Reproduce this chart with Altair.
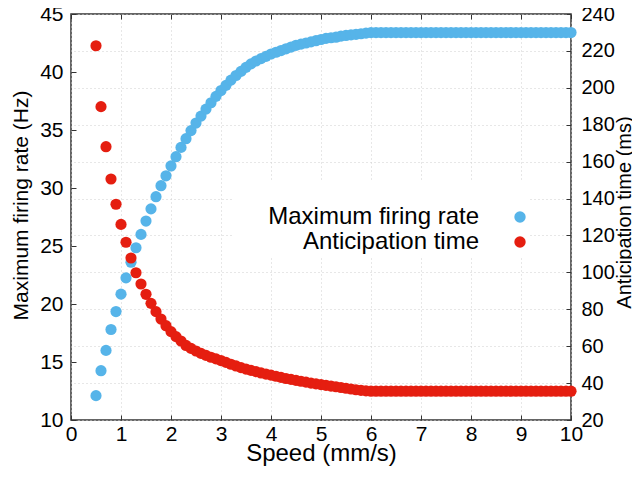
import altair as alt
import pandas as pd

# ---- data ----
speed = [0.5, 0.6, 0.7, 0.8, 0.9, 1.0, 1.1, 1.2, 1.3, 1.4, 1.5, 1.6, 1.7, 1.8, 1.9,
         2.0, 2.1, 2.2, 2.3, 2.4, 2.5, 2.6, 2.7, 2.8, 2.9, 3.0, 3.1, 3.2, 3.3, 3.4,
         3.5, 3.6, 3.7, 3.8, 3.9, 4.0, 4.1, 4.2, 4.3, 4.4, 4.5, 4.6, 4.7, 4.8, 4.9,
         5.0, 5.1, 5.2, 5.3, 5.4, 5.5, 5.6, 5.7, 5.8, 5.9, 6.0, 6.1, 6.2, 6.3, 6.4,
         6.5, 6.6, 6.7, 6.8, 6.9, 7.0, 7.1, 7.2, 7.3, 7.4, 7.5, 7.6, 7.7, 7.8, 7.9,
         8.0, 8.1, 8.2, 8.3, 8.4, 8.5, 8.6, 8.7, 8.8, 8.9, 9.0, 9.1, 9.2, 9.3, 9.4,
         9.5, 9.6, 9.7, 9.8, 9.9, 10.0]

firing_rate = [12.1, 14.25, 16.0, 17.8, 19.35, 20.85, 22.25, 23.6, 24.85, 26.0,
               27.15, 28.2, 29.25, 30.2, 31.05, 31.9, 32.7, 33.5, 34.25, 34.95,
               35.6, 36.2, 36.8, 37.35, 37.9, 38.4, 38.85, 39.3, 39.7, 40.05,
               40.4, 40.7, 40.95, 41.15, 41.35, 41.55, 41.7, 41.85, 42.0, 42.15,
               42.3, 42.4, 42.5, 42.6, 42.7, 42.8, 42.9, 42.95, 43.0, 43.1,
               43.15, 43.2, 43.25, 43.3, 43.35, 43.4, 43.4, 43.4, 43.4, 43.4,
               43.4, 43.4, 43.4, 43.4, 43.4, 43.4, 43.4, 43.4, 43.4, 43.4,
               43.4, 43.4, 43.4, 43.4, 43.4, 43.4, 43.4, 43.4, 43.4, 43.4,
               43.4, 43.4, 43.4, 43.4, 43.4, 43.4, 43.4, 43.4, 43.4, 43.4,
               43.4, 43.4, 43.4, 43.4, 43.4, 43.4]

anticipation = [222.8, 189.8, 168.1, 150.6, 136.9, 126.0, 116.3, 107.8, 99.8, 93.7,
                88.1, 83.2, 78.7, 74.7, 71.1, 67.9, 65.2, 62.8, 60.4, 58.8,
                57.4, 56.1, 55.0, 54.0, 53.1, 52.2, 51.2, 50.2, 49.3, 48.4,
                47.6, 46.9, 46.2, 45.5, 44.9, 44.3, 43.7, 43.1, 42.5, 42.0,
                41.5, 41.0, 40.5, 40.0, 39.6, 39.2, 38.8, 38.4, 38.0, 37.6,
                37.2, 36.8, 36.4, 36.1, 35.8, 35.6, 35.6, 35.6, 35.6, 35.6,
                35.6, 35.6, 35.6, 35.6, 35.6, 35.6, 35.6, 35.6, 35.6, 35.6,
                35.6, 35.6, 35.6, 35.6, 35.6, 35.6, 35.6, 35.6, 35.6, 35.6,
                35.6, 35.6, 35.6, 35.6, 35.6, 35.6, 35.6, 35.6, 35.6, 35.6,
                35.6, 35.6, 35.6, 35.6, 35.6, 35.6]

series_names = ["Maximum firing rate", "Anticipation time"]
series_colors = ["#56b4e9", "#e51e10"]
x_ticks = [0, 1, 2, 3, 4, 5, 6, 7, 8, 9, 10]
y_ticks = [10, 15, 20, 25, 30, 35, 40, 45]
y2_ticks = [20, 40, 60, 80, 100, 120, 140, 160, 180, 200, 220, 240]

df = pd.DataFrame({"speed": speed, "rate": firing_rate, "antic": anticipation})

FONT = "Liberation Sans"
INWARD = {"expr": "-5"}
GRID_COLOR = "#cfcfcf"
TICK_COLOR = "#333333"

color_scale = alt.Scale(domain=series_names, range=series_colors)

legend = alt.Legend(
    title=" ", titleFontSize=16, titlePadding=6,
    orient="none", legendX=162, legendY=166,
    labelAlign="right", labelOffset={"expr": "-53"}, symbolOffset=272,
    labelLimit=0, labelFont=FONT, labelFontSize=24, labelColor="black",
    symbolType="circle", symbolSize=130, symbolStrokeWidth=0,
    fillColor="white", padding=3, rowPadding=1,
)

base = alt.Chart(df)

blue = base.mark_circle(size=125, opacity=1).encode(
    x=alt.X("speed:Q",
            scale=alt.Scale(domain=[0, 10], nice=False, zero=False),
            axis=alt.Axis(values=x_ticks, title="Speed (mm/s)", orient="bottom",
                          grid=True, gridColor=GRID_COLOR, gridDash=[1, 3], gridWidth=1,
                          domain=False, ticks=True, tickSize=INWARD, tickColor=TICK_COLOR,
                          tickWidth=1, labelPadding=8, labelFlush=False,
                          labelFont=FONT, labelFontSize=21,
                          labelColor="black", titleFont=FONT, titleFontSize=24,
                          titleFontWeight="normal", titleColor="black",
                          titleBaseline="top", titleY=21)),
    y=alt.Y("rate:Q",
            scale=alt.Scale(domain=[10, 45], nice=False, zero=False),
            axis=alt.Axis(values=y_ticks, title="Maximum firing rate (Hz)", orient="left",
                          grid=False, domain=False, tickSize=INWARD, tickColor=TICK_COLOR,
                          tickWidth=1, labelPadding=13, labelFlush=False,
                          labelFont=FONT, labelFontSize=21,
                          labelColor="black", titleFont=FONT, titleFontSize=21,
                          titleFontWeight="normal", titleColor="black", titlePadding=8,
                          titleY=191)),
    color=alt.Color("s:N", scale=color_scale, legend=legend),
).transform_calculate(s="'Maximum firing rate'")

red = base.mark_circle(size=125, opacity=1).encode(
    x=alt.X("speed:Q",
            axis=alt.Axis(values=x_ticks, title=None, orient="top", grid=False,
                          labels=False, domain=False, tickSize=INWARD,
                          tickColor=TICK_COLOR, tickWidth=1)),
    y=alt.Y("antic:Q",
            scale=alt.Scale(domain=[20, 240], nice=False, zero=False),
            axis=alt.Axis(values=y2_ticks, title="Anticipation time (ms)", orient="right",
                          grid=True, gridColor=GRID_COLOR, gridDash=[1, 3], gridWidth=1,
                          domain=False, tickSize=INWARD, tickColor=TICK_COLOR,
                          tickWidth=1, labelPadding=15, labelFlush=False,
                          labelFont=FONT, labelFontSize=20,
                          labelColor="black", titleFont=FONT, titleFontSize=20,
                          titleFontWeight="normal", titleColor="black", titleAngle=270,
                          titleBaseline="top", titlePadding=0, titleY=198)),
    color=alt.Color("s:N", scale=color_scale, legend=legend),
).transform_calculate(s="'Anticipation time'")

chart = alt.layer(blue, red).resolve_scale(
    y="independent"
).resolve_axis(
    x="independent", y="independent"
).properties(
    width=500, height=406,
    padding={"left": 63, "top": 6, "right": 61, "bottom": 50},
    autosize=alt.AutoSizeParams(type="none"),
    background="white",
).configure_view(
    stroke="#333333", strokeWidth=1.5
)

chart.save("out.html", embed_options={"renderer": "svg", "actions": False})
